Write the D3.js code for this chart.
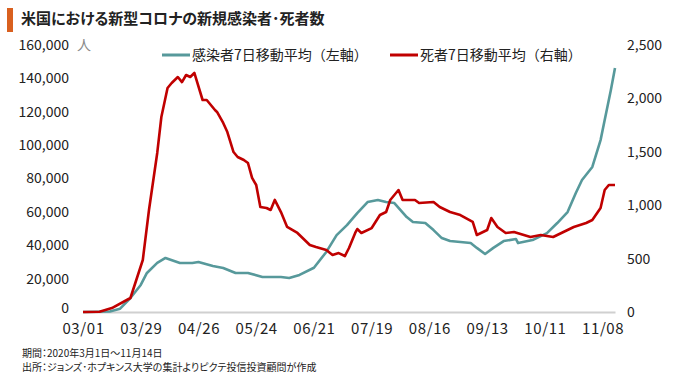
<!DOCTYPE html>
<html>
<head>
<meta charset="utf-8">
<script src="https://cdn.jsdelivr.net/npm/d3@7"></script>
<style>
  body { margin: 0; background: #fff; }
  svg text { font-family: "Noto Sans CJK JP", "Noto Sans", sans-serif; fill: #222; }
  .palt { font-feature-settings: "palt"; }
</style>
</head>
<body>
<div id="chart"></div>
<script>
// days counted from 2020-03-01
var caseDays = [0, 13, 18, 23, 28, 31, 36, 40, 47, 53, 56, 63, 68, 74, 80, 87, 96, 100, 105, 112,
  118, 123, 128, 133, 138, 143, 147, 151, 157, 160, 166, 170, 174, 178, 188, 191, 195, 199, 204,
  210, 211, 218, 225, 230, 235, 239, 242, 247, 251, 253, 256, 258];
var caseValues = [0, 300, 2000, 8400, 16200, 23400, 29400, 32400, 29400, 29400, 30000, 27600, 26400,
  23400, 23400, 21000, 21000, 20400, 22200, 26500, 36000, 46100, 52100, 59300, 65900, 67100, 65900,
  65300, 56900, 53900, 53300, 49100, 44300, 42500, 41300, 38400, 34800, 38400, 42500, 43700, 41300,
  43100, 47300, 53300, 59900, 71300, 79100, 86900, 103000, 115000, 133000, 146200];

var deathDays = [0, 8, 14, 23, 29, 32, 36, 38, 41, 43, 46, 48, 50, 52, 54, 58, 60, 64, 65, 68, 70,
  73, 75, 78, 80, 82, 84, 86, 89, 91, 93, 96, 99, 104, 105, 110, 113, 118, 121, 124, 127, 129, 132,
  133, 135, 140, 144, 147, 149, 153, 155, 161, 163, 170, 173, 178, 183, 189, 191, 193, 196, 198,
  201, 205, 209, 217, 222, 228, 233, 238, 244, 247, 251, 253, 255, 258];
var deathValues = [0, 2, 37, 131, 487, 955, 1489, 1826, 2097, 2144, 2200, 2153, 2219, 2200, 2238,
  1985, 1985, 1891, 1873, 1770, 1685, 1498, 1451, 1423, 1395, 1255, 1189, 983, 974, 955, 1049, 936,
  796, 740, 721, 627, 608, 580, 534, 552, 524, 599, 740, 777, 740, 786, 908, 936, 1049, 1142, 1049,
  1049, 1021, 1030, 983, 936, 908, 843, 721, 740, 768, 880, 796, 740, 749, 702, 721, 702, 749, 796,
  833, 861, 974, 1142, 1189, 1189];

var leftTicks = [0, 20000, 40000, 60000, 80000, 100000, 120000, 140000, 160000];
var rightTicks = [0, 500, 1000, 1500, 2000, 2500];
var xTickDays = [0, 28, 56, 84, 112, 140, 168, 196, 224, 252];

var W = 680, H = 378;
var start = new Date(2020, 2, 1);
function dayToDate(d) { return d3.timeDay.offset(start, d); }

var svg = d3.select("#chart")
    .append("svg")
    .attr("width", W)
    .attr("height", H);

var x = d3.scaleTime()
    .domain([start, dayToDate(258)])
    .range([83, 615]);

var yL = d3.scaleLinear().domain([0, 160000]).range([312, 45]);
var yR = d3.scaleLinear().domain([0, 2500]).range([312, 45]);

// title
svg.append("rect")
    .attr("x", 7).attr("y", 8)
    .attr("width", 6).attr("height", 24)
    .style("fill", "#d9601f");
svg.append("text")
    .attr("class", "palt")
    .attr("x", 21).attr("y", 24)
    .style("font-size", "15px")
    .style("font-weight", "bold")
    .text("米国における新型コロナの新規感染者･死者数");

// x axis
var xAxis = svg.append("g")
    .attr("transform", "translate(0,312)")
    .call(d3.axisBottom(x)
        .tickValues(xTickDays.map(dayToDate))
        .tickSize(0)
        .tickPadding(11)
        .tickFormat(d3.timeFormat("%m/%d")));
xAxis.select(".domain").style("stroke", "#d0d0d0").style("stroke-width", 2);
xAxis.selectAll("text")
    .style("font-size", "15px")
    .style("letter-spacing", "0.6px")
    .style("font-family", null);

// left axis
var yAxisL = svg.append("g")
    .attr("transform", "translate(69,0)")
    .call(d3.axisLeft(yL)
        .tickValues(leftTicks)
        .tickSize(0)
        .tickPadding(0)
        .tickFormat(d3.format(",")));
yAxisL.select(".domain").remove();
yAxisL.selectAll("text").style("font-size", "14px").style("font-family", null);
// the zero label sits a touch higher so it clears 03/01
yAxisL.selectAll(".tick text").filter(function(d) { return d === 0; }).attr("dy", "0em");

svg.append("text")
    .attr("x", 77).attr("y", 50)
    .style("font-size", "14px")
    .style("fill", "#8a8a8a")
    .text("人");

// right axis
var yAxisR = svg.append("g")
    .attr("transform", "translate(627,0)")
    .call(d3.axisRight(yR)
        .tickValues(rightTicks)
        .tickSize(0)
        .tickPadding(0)
        .tickFormat(d3.format(",")));
yAxisR.select(".domain").remove();
yAxisR.selectAll("text").style("font-size", "14px").style("font-family", null);

// lines
var caseLine = d3.line()
    .x(function(d, i) { return x(dayToDate(caseDays[i])); })
    .y(function(d) { return yL(d); });
var deathLine = d3.line()
    .x(function(d, i) { return x(dayToDate(deathDays[i])); })
    .y(function(d) { return yR(d); });

svg.append("path")
    .datum(caseValues)
    .attr("d", caseLine)
    .style("fill", "none")
    .style("stroke", "#57999b")
    .style("stroke-width", 2.6)
    .style("stroke-linejoin", "round");

svg.append("path")
    .datum(deathValues)
    .attr("d", deathLine)
    .style("fill", "none")
    .style("stroke", "#c00000")
    .style("stroke-width", 2.6)
    .style("stroke-linejoin", "round");

// legend
var legend = [
    {label: "感染者7日移動平均（左軸）", color: "#57999b", x: 162},
    {label: "死者7日移動平均（右軸）", color: "#c00000", x: 390}
];
legend.forEach(function(l) {
    svg.append("line")
        .attr("x1", l.x).attr("x2", l.x + 28)
        .attr("y1", 55).attr("y2", 55)
        .style("stroke", l.color)
        .style("stroke-width", 3);
    svg.append("text")
        .attr("x", l.x + 30).attr("y", 60)
        .style("font-size", "14px")
        .text(l.label);
});

// notes
svg.append("text")
    .attr("class", "palt")
    .attr("x", 22).attr("y", 357)
    .style("font-size", "10px")
    .text("期間：2020年3月1日～11月14日");
svg.append("text")
    .attr("class", "palt")
    .attr("x", 22).attr("y", 371)
    .style("font-size", "10px")
    .text("出所：ジョンズ･ホプキンス大学の集計よりピクテ投信投資顧問が作成");
</script>
</body>
</html>
